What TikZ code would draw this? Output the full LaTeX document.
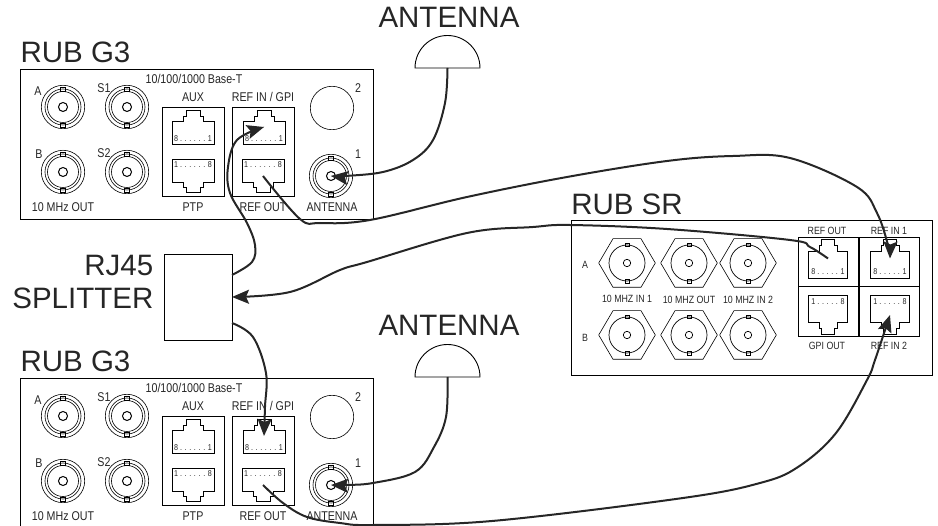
\documentclass[tikz,border=0pt]{standalone}
\usepackage{fontspec}
\setmainfont{Liberation Sans}
\newfontfamily\narrowfont[FakeStretch=0.84]{Liberation Sans}
\usetikzlibrary{arrows.meta}
\tikzset{
    biglabel/.style={font=\fontsize{29.5}{33}\selectfont, inner sep=0pt, text=black!85},
    panellabel/.style={font=\narrowfont\fontsize{12.7}{14}\selectfont, inner sep=0pt, text=black!85},
    smalllabel/.style={font=\narrowfont\fontsize{10.5}{12}\selectfont, inner sep=0pt, text=black!85},
    tinylabel/.style={font=\narrowfont\fontsize{8.5}{9}\selectfont, inner sep=0pt, text=black!85},
    cable/.style={line width=2pt, black!85},
    cablearrow/.style={cable, -{Stealth[length=17pt,width=14pt,inset=3pt]}},
}
% one RJ45 socket, drawn round its centre
\newcommand{\rjport}[6]{%
    \begin{scope}[shift={(#2,#3)}, xscale=#4, yscale=#5]
        \draw[line width=0.6pt] (-21,17) -- (-21,-6) -- (-10,-6) -- (-10,-11) -- (-7,-11) -- (-7,-16.5)
            -- (7,-16.5) -- (7,-11) -- (10,-11) -- (10,-6) -- (21,-6) -- (21,17) -- cycle;
        \coordinate (#1) at (0,0);
        \node[tinylabel] (#1pins) at (0,11.5) {#6};
    \end{scope}%
}
% round connector of the G3 panel
\newcommand{\roundbnc}[3]{%
    \begin{scope}[shift={(#2,#3)}]
        \coordinate (#1) at (0,0);
        \draw[line width=0.6pt] (0,0) circle (21.7) (0,0) circle (18) (0,0) circle (15.5);
        \draw[line width=1pt] (0,0) circle (4.5);
        \draw[line width=0.5pt] (-2.5,-20) rectangle (2.5,-16) (-2.5,16) rectangle (2.5,20);
    \end{scope}%
}
% hexagon connector of the SR panel
\newcommand{\hexbnc}[3]{%
    \begin{scope}[shift={(#2,#3)}]
        \coordinate (#1) at (0,0);
        \draw[line width=0.6pt] (-28.3,0) -- (-14,-24.3) -- (14,-24.3) -- (28.3,0) -- (14,24.3) -- (-14,24.3) -- cycle;
        \draw[line width=0.7pt] (0,0) circle (18) (0,0) circle (3.7);
        \draw[line width=0.5pt] (-2,-20) rectangle (2,-16.5) (-2,16.5) rectangle (2,20);
    \end{scope}%
}
% whole G3 panel, #1 = prefix of names, #2 = vertical offset
\newcommand{\rubgthree}[2]{%
    \begin{scope}[shift={(0,#2)}]
        \draw[line width=0.7pt] (20,69) rectangle (373,219);
        \node[biglabel] (#1title) at (75.5,52) {RUB G3};
        \node[panellabel] (#1base) at (194,79) {10/100/1000 Base-T};
        \roundbnc{#1a}{63}{107}
        \roundbnc{#1sone}{127}{107}
        \roundbnc{#1b}{63}{172}
        \roundbnc{#1stwo}{127}{172}
        \roundbnc{#1antenna}{331}{176}
        \coordinate (#1two) at (332,108);
        \draw[line width=0.6pt] (#1two) circle (21.7);
        \node[panellabel] (#1alabel) at (38,91) {A};
        \node[panellabel] (#1blabel) at (39,154) {B};
        \node[panellabel] (#1slabel) at (104,88) {S1};
        \node[panellabel] (#1stlabel) at (104,153) {S2};
        \node[panellabel] (#1twolabel) at (358,88) {2};
        \node[panellabel] (#1onelabel) at (358,154) {1};
        \node[panellabel] (#1mhz) at (63,207) {10 MHz OUT};
        \node[panellabel] (#1aux) at (193,97) {AUX};
        \node[panellabel] (#1ptp) at (193,207) {PTP};
        \node[panellabel] (#1refgpi) at (263,97) {REF IN / GPI};
        \node[panellabel] (#1refout) at (263,207) {REF OUT};
        \node[panellabel] (#1antlabel) at (332,207) {ANTENNA};
        \draw[line width=0.7pt] (162,107) rectangle (224,196);
        \draw[line width=0.7pt] (232,107) rectangle (294,196);
        \rjport{#1auxport}{193}{127}{1}{1}{8 . . . . . . 1}
        \rjport{#1ptpport}{193}{176}{1}{-1}{1 . . . . . . 8}
        \rjport{#1gpiport}{264}{127}{1}{1}{8 . . . . . . 1}
        \rjport{#1outport}{263}{176}{1}{-1}{1 . . . . . . 8}
    \end{scope}%
}
\newcommand{\antenna}[3]{%
    \coordinate (#1) at (#2,#3);
    \draw[line width=0.9pt] (#2-32.5,#3) arc[start angle=180, end angle=360, radius=32.5] -- cycle;%
}

\begin{document}
\begin{tikzpicture}[x=1pt, y=-1pt]
    \useasboundingbox (0,0) rectangle (938,526);

    % --- G3 panels ---
    \rubgthree{top}{0}
    \rubgthree{low}{309}

    % --- Antennas ---
    \node[biglabel] (anttoptext) at (449,17) {ANTENNA};
    \node[biglabel] (antlowtext) at (449,325.5) {ANTENNA};
    \antenna{anttop}{447.5}{68}
    \antenna{antlow}{447.5}{377}

    % --- Splitter ---
    \node[draw, line width=0.8pt, minimum width=68, minimum height=86, inner sep=0pt] (splitter) at (198,297) {};
    \node[biglabel, align=right, anchor=east] (splittertext) at (153.5,282) {RJ45\\SPLITTER};
    \coordinate (splitterup) at (232,275);
    \coordinate (splittermid) at (232,297);
    \coordinate (splitterdown) at (232,323);

    % --- SR panel ---
    \draw[line width=0.7pt] (571,220) rectangle (932,375);
    \node[biglabel] (srtitle) at (627,204) {RUB SR};
    \hexbnc{srain}{627}{263}
    \hexbnc{sraout}{689}{263}
    \hexbnc{sraintwo}{748}{263}
    \hexbnc{srbin}{627}{335}
    \hexbnc{srbout}{689}{335}
    \hexbnc{srbintwo}{748}{335}
    \node[smalllabel] (sra) at (585,265) {A};
    \node[smalllabel] (srb) at (585,338) {B};
    \node[smalllabel] (srmhzone) at (627,299) {10 MHZ IN 1};
    \node[smalllabel] (srmhzout) at (689,300) {10 MHZ OUT};
    \node[smalllabel] (srmhztwo) at (748,300) {10 MHZ IN 2};
    \node[smalllabel] (srrefout) at (827,231) {REF OUT};
    \node[smalllabel] (srrefone) at (889,231) {REF IN 1};
    \node[smalllabel] (srgpi) at (827,346) {GPI OUT};
    \node[smalllabel] (srreftwo) at (889,346) {REF IN 2};
    \draw[line width=1pt] (798,238) rectangle (858,287) (859,238) rectangle (919,287);
    \draw[line width=1pt] (798,287) rectangle (858,337) (859,287) rectangle (919,337);
    \rjport{srout}{828}{258.5}{0.92}{1.18}{8 . . . . . 1}
    \rjport{srinone}{890}{258.5}{0.92}{1.18}{8 . . . . . 1}
    \rjport{srgpo}{828}{315}{0.92}{-1.18}{1 . . . . . 8}
    \rjport{srintwo}{890}{315}{0.92}{-1.18}{1 . . . . . 8}

    % --- Cables ---
    \draw[cablearrow] plot[smooth, tension=0.6] coordinates {(anttop) (445,103) (433,140) (413,160) (383,172) (345,176) (topantenna)};
    \draw[cablearrow] plot[smooth, tension=0.6] coordinates {(antlow) (446,417) (434,447) (415,472) (373,483) (345,485) (lowantenna)};
    \draw[cablearrow] plot[smooth, tension=0.6] coordinates {(topoutport) (300,219) (320,223) (370,220) (467,197) (567,177)
        (667,161) (733,156) (790,158) (857,187) (877,213) (888,245) (srinone)};
    \draw[cablearrow] plot[smooth, tension=0.6] coordinates {(splitterup) (252,262) (255,245) (247,223) (230,193) (228,167)
        (237,140) (topgpiport)};
    \draw[cablearrow] plot[smooth, tension=0.6] coordinates {(srout) (810,247) (790,240) (667,229) (570,225) (533,227) (467,233)
        (367,262) (340,270) (290,292) (splittermid)};
    \draw[cablearrow] plot[smooth, tension=0.6] coordinates {(splitterdown) (253,337) (266,373) (265,407) (lowgpiport)};
    \draw[cablearrow] plot[smooth, tension=0.6] coordinates {(lowoutport) (283,503) (307,517) (340,523) (373,525) (492,521)
        (683,498) (760,483) (798,467) (836,433) (867,380) (875,360) (srintwo)};

\end{tikzpicture}
\end{document}
